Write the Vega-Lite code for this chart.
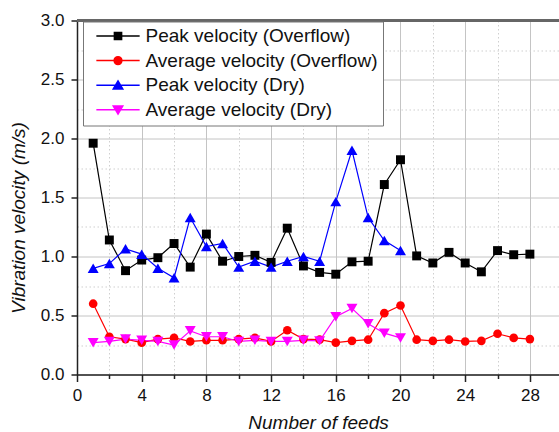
{
  "$schema": "https://vega.github.io/schema/vega-lite/v6.json",
  "width": 482,
  "height": 354,
  "autosize": {"type": "none"},
  "padding": {"left": 77, "top": 20.5, "right": 0, "bottom": 57.5},
  "background": "white",
  "config": {
    "view": {"stroke": null},
    "font": "Liberation Sans"
  },
  "data": {
    "values": [
      {"feeds": 1, "series": "Peak velocity (Overflow)", "v": 1.96},
      {"feeds": 2, "series": "Peak velocity (Overflow)", "v": 1.14},
      {"feeds": 3, "series": "Peak velocity (Overflow)", "v": 0.88},
      {"feeds": 4, "series": "Peak velocity (Overflow)", "v": 0.97},
      {"feeds": 5, "series": "Peak velocity (Overflow)", "v": 0.99},
      {"feeds": 6, "series": "Peak velocity (Overflow)", "v": 1.11},
      {"feeds": 7, "series": "Peak velocity (Overflow)", "v": 0.91},
      {"feeds": 8, "series": "Peak velocity (Overflow)", "v": 1.19},
      {"feeds": 9, "series": "Peak velocity (Overflow)", "v": 0.96},
      {"feeds": 10, "series": "Peak velocity (Overflow)", "v": 1.00},
      {"feeds": 11, "series": "Peak velocity (Overflow)", "v": 1.01},
      {"feeds": 12, "series": "Peak velocity (Overflow)", "v": 0.95},
      {"feeds": 13, "series": "Peak velocity (Overflow)", "v": 1.24},
      {"feeds": 14, "series": "Peak velocity (Overflow)", "v": 0.92},
      {"feeds": 15, "series": "Peak velocity (Overflow)", "v": 0.865},
      {"feeds": 16, "series": "Peak velocity (Overflow)", "v": 0.85},
      {"feeds": 17, "series": "Peak velocity (Overflow)", "v": 0.955},
      {"feeds": 18, "series": "Peak velocity (Overflow)", "v": 0.96},
      {"feeds": 19, "series": "Peak velocity (Overflow)", "v": 1.61},
      {"feeds": 20, "series": "Peak velocity (Overflow)", "v": 1.82},
      {"feeds": 21, "series": "Peak velocity (Overflow)", "v": 1.005},
      {"feeds": 22, "series": "Peak velocity (Overflow)", "v": 0.945},
      {"feeds": 23, "series": "Peak velocity (Overflow)", "v": 1.035},
      {"feeds": 24, "series": "Peak velocity (Overflow)", "v": 0.945},
      {"feeds": 25, "series": "Peak velocity (Overflow)", "v": 0.87},
      {"feeds": 26, "series": "Peak velocity (Overflow)", "v": 1.05},
      {"feeds": 27, "series": "Peak velocity (Overflow)", "v": 1.015},
      {"feeds": 28, "series": "Peak velocity (Overflow)", "v": 1.02},
      {"feeds": 1, "series": "Average velocity (Overflow)", "v": 0.60},
      {"feeds": 2, "series": "Average velocity (Overflow)", "v": 0.32},
      {"feeds": 3, "series": "Average velocity (Overflow)", "v": 0.30},
      {"feeds": 4, "series": "Average velocity (Overflow)", "v": 0.27},
      {"feeds": 5, "series": "Average velocity (Overflow)", "v": 0.30},
      {"feeds": 6, "series": "Average velocity (Overflow)", "v": 0.31},
      {"feeds": 7, "series": "Average velocity (Overflow)", "v": 0.28},
      {"feeds": 8, "series": "Average velocity (Overflow)", "v": 0.29},
      {"feeds": 9, "series": "Average velocity (Overflow)", "v": 0.29},
      {"feeds": 10, "series": "Average velocity (Overflow)", "v": 0.30},
      {"feeds": 11, "series": "Average velocity (Overflow)", "v": 0.31},
      {"feeds": 12, "series": "Average velocity (Overflow)", "v": 0.28},
      {"feeds": 13, "series": "Average velocity (Overflow)", "v": 0.375},
      {"feeds": 14, "series": "Average velocity (Overflow)", "v": 0.30},
      {"feeds": 15, "series": "Average velocity (Overflow)", "v": 0.295},
      {"feeds": 16, "series": "Average velocity (Overflow)", "v": 0.27},
      {"feeds": 17, "series": "Average velocity (Overflow)", "v": 0.285},
      {"feeds": 18, "series": "Average velocity (Overflow)", "v": 0.295},
      {"feeds": 19, "series": "Average velocity (Overflow)", "v": 0.52},
      {"feeds": 20, "series": "Average velocity (Overflow)", "v": 0.585},
      {"feeds": 21, "series": "Average velocity (Overflow)", "v": 0.295},
      {"feeds": 22, "series": "Average velocity (Overflow)", "v": 0.285},
      {"feeds": 23, "series": "Average velocity (Overflow)", "v": 0.295},
      {"feeds": 24, "series": "Average velocity (Overflow)", "v": 0.28},
      {"feeds": 25, "series": "Average velocity (Overflow)", "v": 0.285},
      {"feeds": 26, "series": "Average velocity (Overflow)", "v": 0.345},
      {"feeds": 27, "series": "Average velocity (Overflow)", "v": 0.31},
      {"feeds": 28, "series": "Average velocity (Overflow)", "v": 0.30},
      {"feeds": 1, "series": "Peak velocity (Dry)", "v": 0.90},
      {"feeds": 2, "series": "Peak velocity (Dry)", "v": 0.94},
      {"feeds": 3, "series": "Peak velocity (Dry)", "v": 1.065},
      {"feeds": 4, "series": "Peak velocity (Dry)", "v": 1.02},
      {"feeds": 5, "series": "Peak velocity (Dry)", "v": 0.90},
      {"feeds": 6, "series": "Peak velocity (Dry)", "v": 0.82},
      {"feeds": 7, "series": "Peak velocity (Dry)", "v": 1.33},
      {"feeds": 8, "series": "Peak velocity (Dry)", "v": 1.085},
      {"feeds": 9, "series": "Peak velocity (Dry)", "v": 1.11},
      {"feeds": 10, "series": "Peak velocity (Dry)", "v": 0.91},
      {"feeds": 11, "series": "Peak velocity (Dry)", "v": 0.96},
      {"feeds": 12, "series": "Peak velocity (Dry)", "v": 0.91},
      {"feeds": 13, "series": "Peak velocity (Dry)", "v": 0.96},
      {"feeds": 14, "series": "Peak velocity (Dry)", "v": 1.00},
      {"feeds": 15, "series": "Peak velocity (Dry)", "v": 0.96},
      {"feeds": 16, "series": "Peak velocity (Dry)", "v": 1.465},
      {"feeds": 17, "series": "Peak velocity (Dry)", "v": 1.90},
      {"feeds": 18, "series": "Peak velocity (Dry)", "v": 1.33},
      {"feeds": 19, "series": "Peak velocity (Dry)", "v": 1.135},
      {"feeds": 20, "series": "Peak velocity (Dry)", "v": 1.05},
      {"feeds": 1, "series": "Average velocity (Dry)", "v": 0.27},
      {"feeds": 2, "series": "Average velocity (Dry)", "v": 0.28},
      {"feeds": 3, "series": "Average velocity (Dry)", "v": 0.30},
      {"feeds": 4, "series": "Average velocity (Dry)", "v": 0.29},
      {"feeds": 5, "series": "Average velocity (Dry)", "v": 0.28},
      {"feeds": 6, "series": "Average velocity (Dry)", "v": 0.25},
      {"feeds": 7, "series": "Average velocity (Dry)", "v": 0.37},
      {"feeds": 8, "series": "Average velocity (Dry)", "v": 0.32},
      {"feeds": 9, "series": "Average velocity (Dry)", "v": 0.32},
      {"feeds": 10, "series": "Average velocity (Dry)", "v": 0.28},
      {"feeds": 11, "series": "Average velocity (Dry)", "v": 0.29},
      {"feeds": 12, "series": "Average velocity (Dry)", "v": 0.28},
      {"feeds": 13, "series": "Average velocity (Dry)", "v": 0.28},
      {"feeds": 14, "series": "Average velocity (Dry)", "v": 0.29},
      {"feeds": 15, "series": "Average velocity (Dry)", "v": 0.285},
      {"feeds": 16, "series": "Average velocity (Dry)", "v": 0.49},
      {"feeds": 17, "series": "Average velocity (Dry)", "v": 0.56},
      {"feeds": 18, "series": "Average velocity (Dry)", "v": 0.43},
      {"feeds": 19, "series": "Average velocity (Dry)", "v": 0.35},
      {"feeds": 20, "series": "Average velocity (Dry)", "v": 0.31}
    ]
  },
  "encoding": {
    "x": {
      "field": "feeds",
      "type": "quantitative",
      "scale": {"domain": [0, 29.8], "nice": false, "zero": false},
      "axis": {
        "title": "Number of feeds",
        "titleFont": "Liberation Sans",
        "titleFontSize": 19,
        "titleFontStyle": "italic",
        "titleFontWeight": "normal",
        "titleColor": "#111",
        "titlePadding": 10,
        "values": [0, 2, 4, 6, 8, 10, 12, 14, 16, 18, 20, 22, 24, 26, 28],
        "labelExpr": "datum.value % 4 === 0 ? datum.label : ''",
        "labelFont": "Liberation Sans",
        "labelFontSize": 17,
        "labelColor": "#111",
        "labelPadding": 6,
        "labelFlush": false,
        "labelOverlap": false,
        "domainColor": "#222",
        "domainWidth": 1.5,
        "tickColor": "#222",
        "tickWidth": 1.5,
        "tickSize": {"condition": {"test": "datum.value % 4 === 0", "value": 7}, "value": 4},
        "grid": true,
        "gridColor": {"condition": {"test": "datum.value % 4 === 0", "value": "#c4c4c4"}, "value": "#cfcfcf"},
        "gridDash": {"condition": {"test": "datum.value % 4 === 0", "value": []}, "value": [1.5, 2.5]},
        "gridWidth": 1
      }
    },
    "y": {
      "field": "v",
      "type": "quantitative",
      "scale": {"domain": [0, 3], "nice": false},
      "axis": {
        "title": "Vibration velocity (m/s)",
        "titleFont": "Liberation Sans",
        "titleFontSize": 19,
        "titleFontStyle": "italic",
        "titleFontWeight": "normal",
        "titleColor": "#111",
        "titlePadding": 12,
        "titleY": 197,
        "values": [0, 0.25, 0.5, 0.75, 1, 1.25, 1.5, 1.75, 2, 2.25, 2.5, 2.75, 3],
        "format": ".1f",
        "labelExpr": "(datum.value * 2) % 1 === 0 ? datum.label : ''",
        "labelFont": "Liberation Sans",
        "labelFontSize": 17,
        "labelColor": "#111",
        "labelPadding": 7,
        "labelFlush": false,
        "labelOverlap": false,
        "domainColor": "#222",
        "domainWidth": 1.5,
        "tickColor": "#222",
        "tickWidth": 1.5,
        "tickSize": {"condition": {"test": "(datum.value * 2) % 1 === 0", "value": 6}, "value": 0},
        "grid": true,
        "gridColor": {"condition": {"test": "(datum.value * 2) % 1 === 0", "value": "#c4c4c4"}, "value": "#cfcfcf"},
        "gridDash": {"condition": {"test": "(datum.value * 2) % 1 === 0", "value": []}, "value": [1.5, 2.5]},
        "gridWidth": 1
      }
    }
  },
  "layer": [
    {
      "mark": {"type": "rule", "color": "#666", "strokeWidth": 2},
      "encoding": {"x": null, "y": {"datum": 3, "type": "quantitative"}}
    },
    {
      "mark": {"type": "line", "strokeWidth": 1.2},
      "encoding": {
        "color": {
          "field": "series",
          "type": "nominal",
          "scale": {
            "domain": ["Peak velocity (Overflow)", "Average velocity (Overflow)", "Peak velocity (Dry)", "Average velocity (Dry)"],
            "range": ["#000000", "#ff0000", "#0000ff", "#ff00ff"]
          }
        },
        "order": {"field": "feeds", "type": "quantitative"}
      }
    },
    {
      "mark": {"type": "point", "filled": true, "opacity": 1, "strokeWidth": 0, "size": 0},
      "encoding": {
        "color": {
          "field": "series",
          "type": "nominal",
          "scale": {
            "domain": ["Peak velocity (Overflow)", "Average velocity (Overflow)", "Peak velocity (Dry)", "Average velocity (Dry)"],
            "range": ["#000000", "#ff0000", "#0000ff", "#ff00ff"]
          },
          "legend": {
            "orient": "none",
            "legendX": 6,
            "legendY": 1,
            "title": null,
            "labelFont": "Liberation Sans",
            "labelFontSize": 19,
            "labelColor": "#111",
            "labelLimit": 400,
            "symbolSize": 100,
            "symbolOffset": 20.5,
            "labelOffset": 18,
            "padding": 5,
            "rowPadding": 4.6,
            "strokeColor": "#777",
            "fillColor": "white",
            "cornerRadius": 0
          }
        },
        "shape": {
          "field": "series",
          "type": "nominal",
          "scale": {
            "domain": ["Peak velocity (Overflow)", "Average velocity (Overflow)", "Peak velocity (Dry)", "Average velocity (Dry)"],
            "range": ["M-4.33,0H4.33M-0.72,-0.72H0.72V0.72H-0.72Z", "M-4.33,0H4.33M-0.78,0A0.78,0.78,0,1,0,0.78,0A0.78,0.78,0,1,0,-0.78,0Z", "M-4.33,0H4.33M0,-0.85L0.95,0.75L-0.95,0.75Z", "M-4.33,0H4.33M0,0.85L0.95,-0.75L-0.95,-0.75Z"]
          }
        }
      }
    },
    {
      "transform": [{"filter": "datum.series === 'Peak velocity (Overflow)'"}],
      "mark": {"type": "point", "filled": true, "opacity": 1, "strokeWidth": 0, "shape": "square", "size": 80, "color": "#000000"}
    },
    {
      "transform": [{"filter": "datum.series === 'Average velocity (Overflow)'"}],
      "mark": {"type": "point", "filled": true, "opacity": 1, "strokeWidth": 0, "shape": "circle", "size": 75, "color": "#ff0000"}
    },
    {
      "transform": [{"filter": "datum.series === 'Peak velocity (Dry)'"}],
      "mark": {"type": "point", "filled": true, "opacity": 1, "strokeWidth": 0, "shape": "triangle-up", "size": 120, "color": "#0000ff"}
    },
    {
      "transform": [{"filter": "datum.series === 'Average velocity (Dry)'"}],
      "mark": {"type": "point", "filled": true, "opacity": 1, "strokeWidth": 0, "shape": "triangle-down", "size": 120, "color": "#ff00ff"}
    }
  ]
}
